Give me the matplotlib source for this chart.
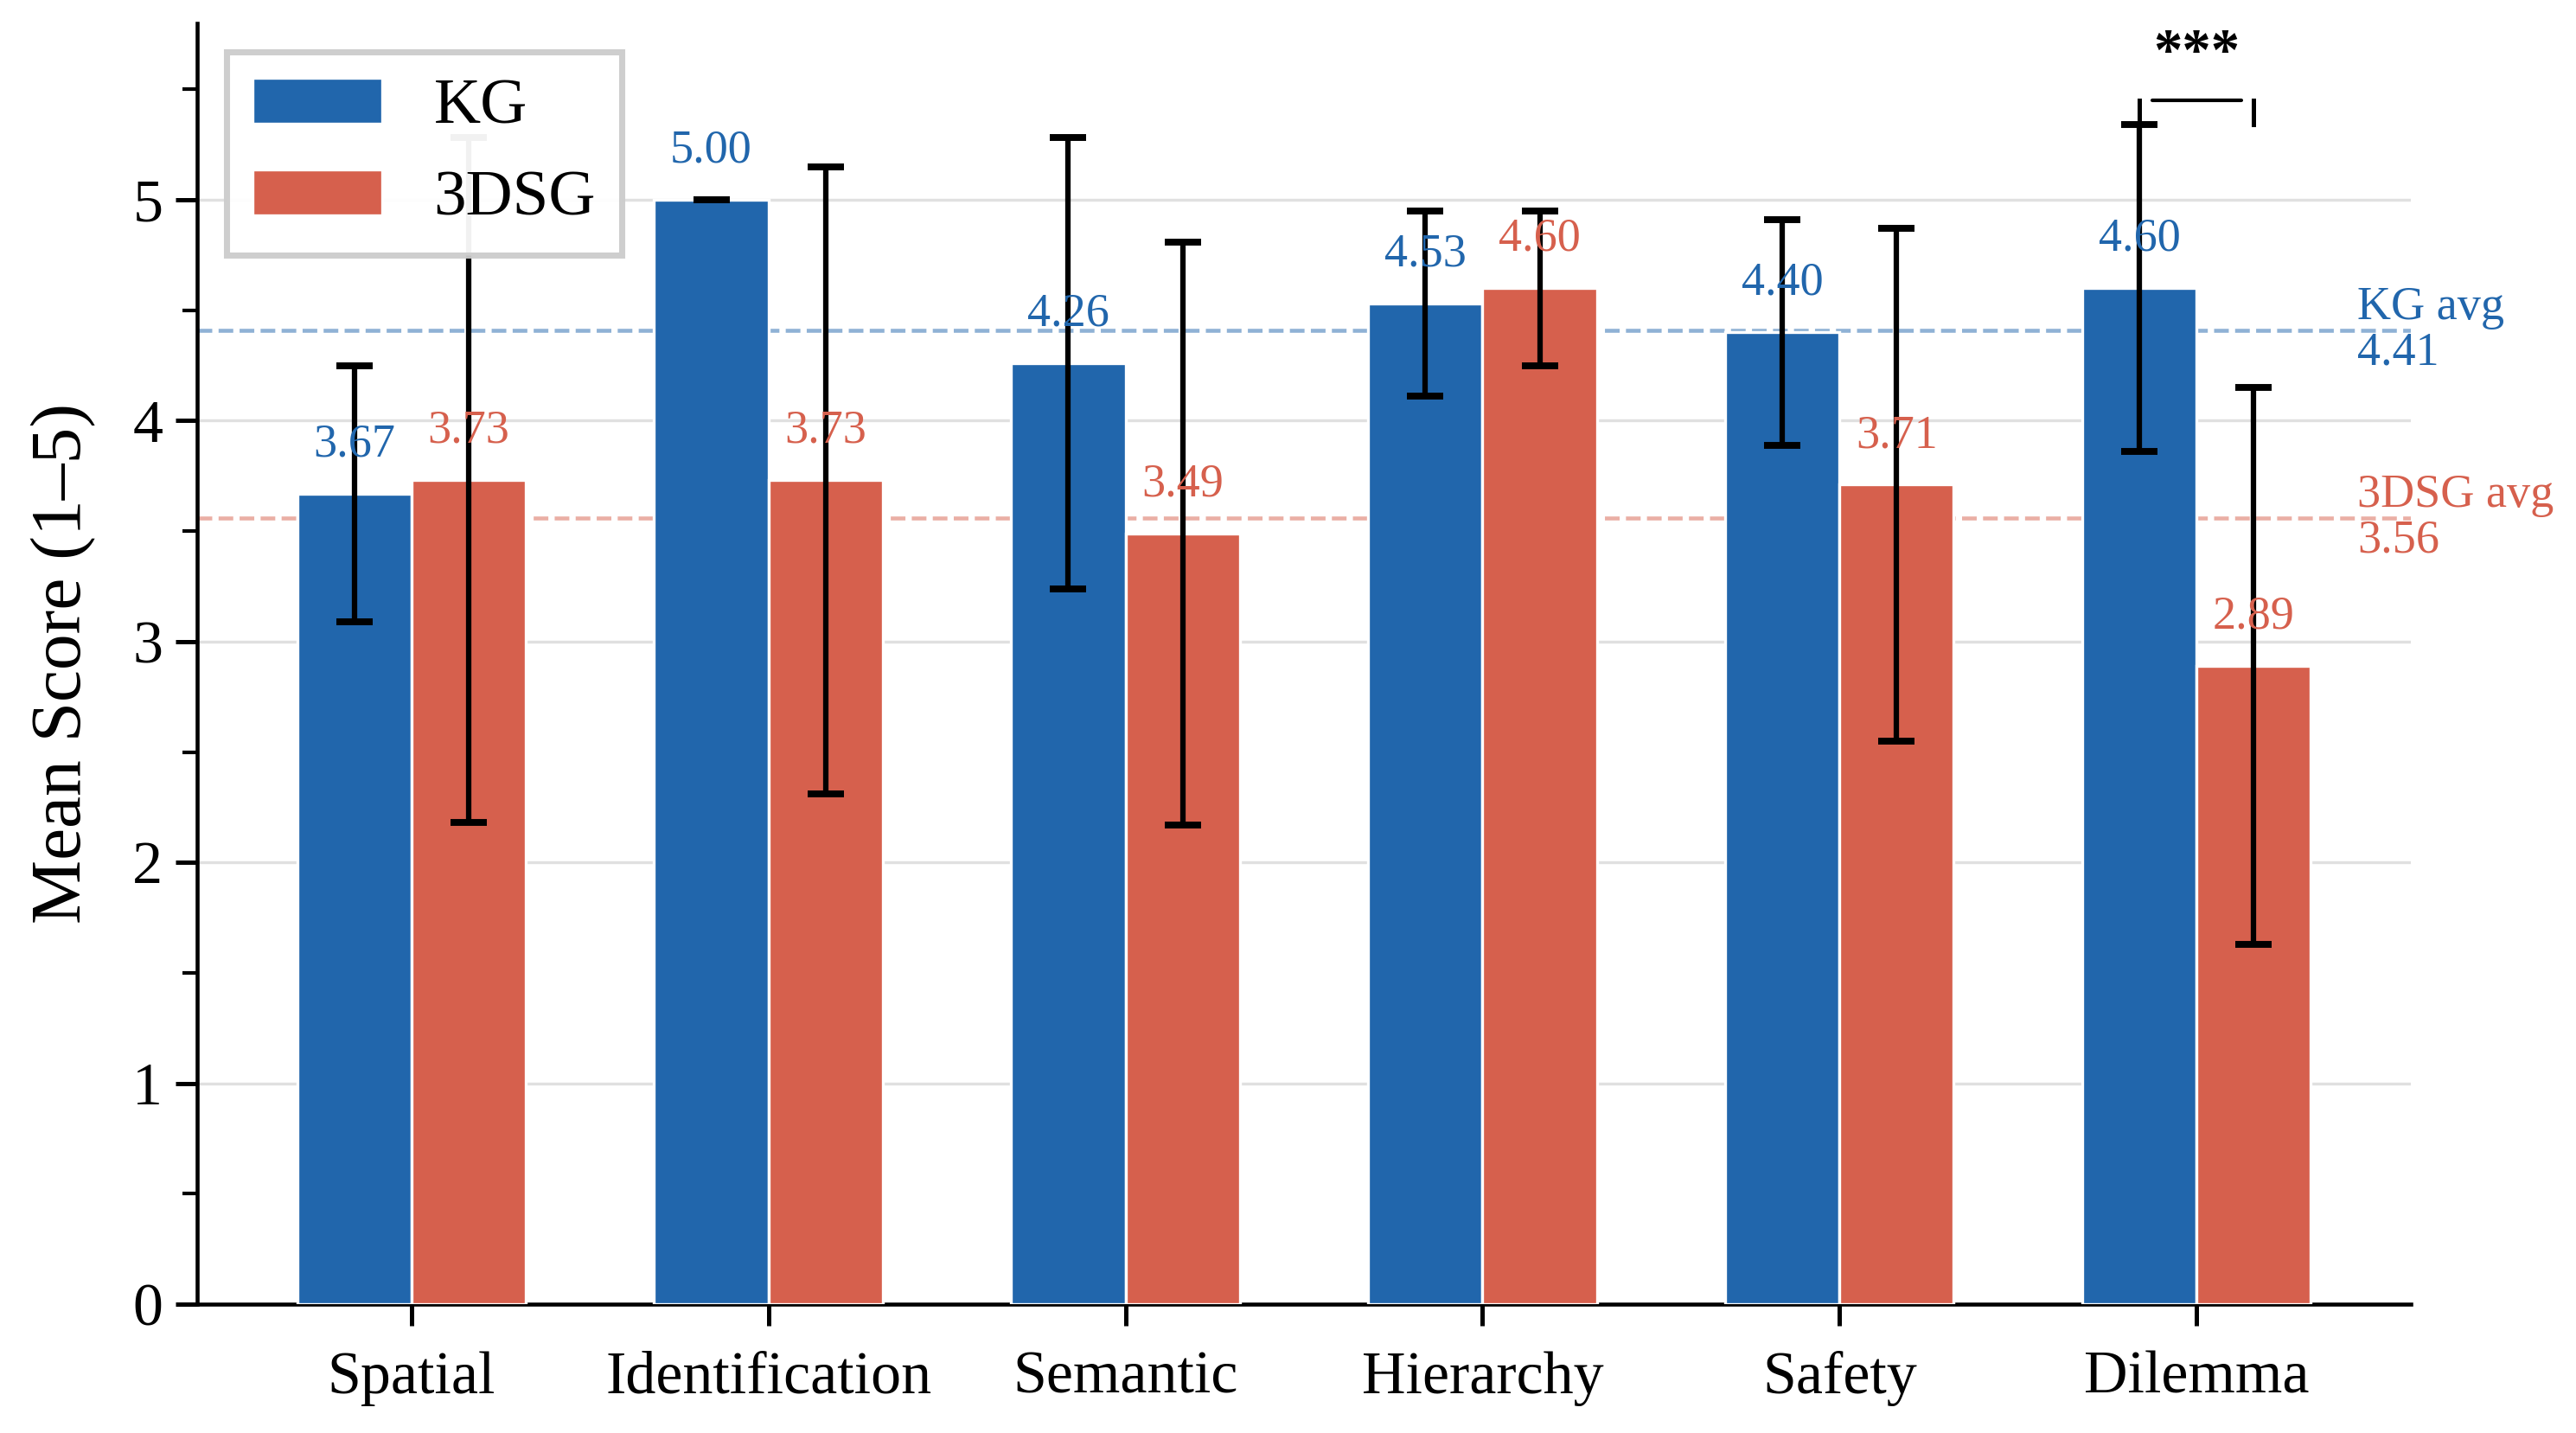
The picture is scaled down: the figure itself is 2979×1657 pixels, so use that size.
import matplotlib
matplotlib.use("Agg")
import matplotlib.pyplot as plt
import numpy as np

plt.rcParams["font.family"] = ["Liberation Serif", "DejaVu Serif"]

categories = ["Spatial", "Identification", "Semantic", "Hierarchy", "Safety", "Dilemma"]
kg_mean = [3.67, 5.00, 4.26, 4.53, 4.40, 4.60]
kg_sd = [0.58, 0.00, 1.02, 0.42, 0.51, 0.74]
dsg_mean = [3.73, 3.73, 3.49, 4.60, 3.71, 2.89]
dsg_sd = [1.55, 1.42, 1.32, 0.35, 1.16, 1.26]
kg_avg = 4.41
dsg_avg = 3.56

blue = "#2166ac"
red = "#d6604d"

fig = plt.figure(figsize=(2979 / 300, 1657 / 300), dpi=300)
ax = fig.add_axes([0.0765, 0.0899, 0.8594, 0.894])

x = np.arange(len(categories))
w = 0.32
err_kw = dict(ecolor="black", elinewidth=1.5, capsize=5, capthick=1.9)

ax.bar(x - w / 2, kg_mean, w, yerr=kg_sd, color=blue, edgecolor="white",
       linewidth=0.8, label="KG", zorder=3, error_kw=err_kw)
ax.bar(x + w / 2, dsg_mean, w, yerr=dsg_sd, color=red, edgecolor="white",
       linewidth=0.8, label="3DSG", zorder=3, error_kw=err_kw)

# value labels
for i in range(len(categories)):
    ax.text(x[i] - w / 2, kg_mean[i] + 0.17, f"{kg_mean[i]:.2f}", ha="center",
            va="baseline", fontsize=13, color=blue, zorder=5)
    ax.text(x[i] + w / 2, dsg_mean[i] + 0.17, f"{dsg_mean[i]:.2f}", ha="center",
            va="baseline", fontsize=13, color=red, zorder=5)

# average lines
ax.axhline(kg_avg, color=blue, alpha=0.5, linestyle="--", linewidth=1.1, zorder=2)
ax.axhline(dsg_avg, color=red, alpha=0.5, linestyle="--", linewidth=1.1, zorder=2)
ax.text(5.45, kg_avg, f"KG avg\n{kg_avg:.2f}", ha="left", va="center",
        fontsize=13, color=blue, linespacing=1.05)
ax.text(5.45, dsg_avg, f"3DSG avg\n{dsg_avg:.2f}", ha="left", va="center",
        fontsize=13, color=red, linespacing=1.05)

# significance bracket on Dilemma
x1, x2 = x[5] - w / 2, x[5] + w / 2
y, h = kg_mean[5] + kg_sd[5], 0.11
ax.plot([x1, x1], [y, y + h], color="black", lw=1.2, zorder=4)
ax.plot([x2, x2], [y, y + h], color="black", lw=1.2, zorder=4)
ax.plot([x1 + 0.035, x2 - 0.035], [y + h, y + h], color="black", lw=1.0,
        solid_capstyle="round", zorder=4)
ax.text((x1 + x2) / 2, 5.66, "***", ha="center", va="center", fontsize=16,
        fontweight="bold")

ax.set_xticks(x)
ax.set_xticklabels(categories, fontsize=16.8)
ax.set_xlim(-0.6, 5.6)
ax.set_ylim(0, 5.8)
ax.set_yticks([0, 1, 2, 3, 4, 5])
ax.set_yticks(np.arange(0.5, 5.6, 1.0), minor=True)
ax.tick_params(axis="y", labelsize=16.8)
ax.tick_params(axis="x", pad=7)
ax.tick_params(which="major", length=6, width=1.2)
ax.tick_params(which="minor", length=4, width=1.0)
ax.set_ylabel("Mean Score (1–5)", fontsize=20, labelpad=10)

ax.grid(axis="y", color="#e0e0e0", linewidth=0.8, zorder=0)
ax.set_axisbelow(True)
for s in ["top", "right"]:
    ax.spines[s].set_visible(False)
for s in ["left", "bottom"]:
    ax.spines[s].set_linewidth(1.1)

leg = ax.legend(loc="upper left", fontsize=18, fancybox=False, framealpha=0.95,
                edgecolor="#cccccc", borderaxespad=0.45)
leg.get_frame().set_linewidth(1.7)

fig.savefig("out.png", dpi=300)
